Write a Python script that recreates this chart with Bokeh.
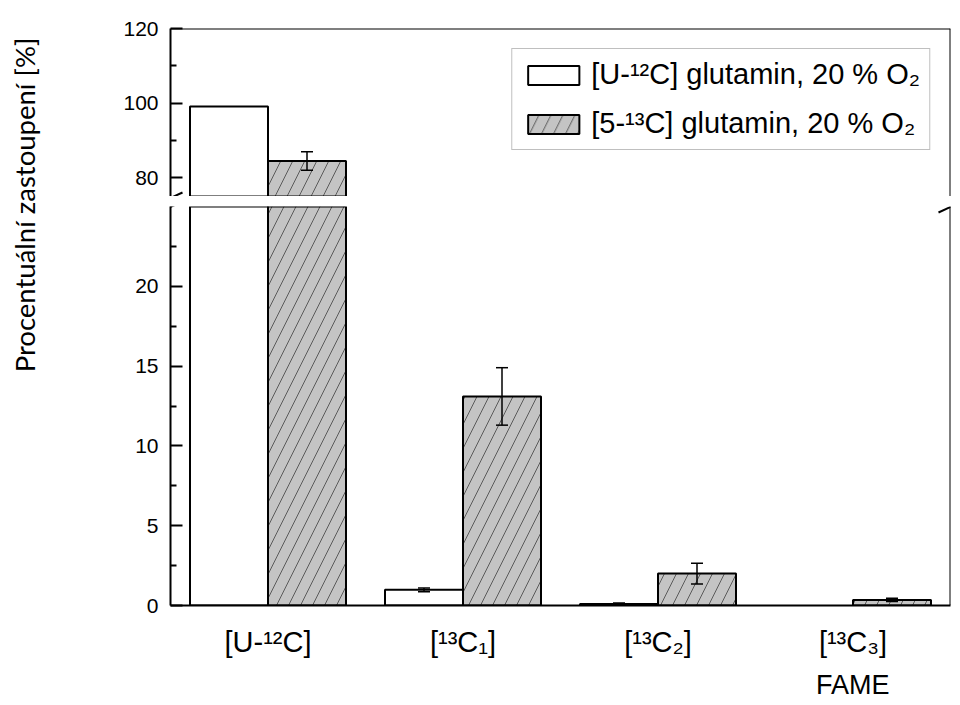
import math
from bokeh.plotting import figure
from bokeh.models import (ColumnDataSource, FixedTicker, Whisker, TeeHead, Legend,
                          LegendItem, Span, Label, Arrow, Range1d, CDSView, BooleanFilter, Title)
from bokeh.transform import dodge
from bokeh.layouts import row, column
from bokeh.embed import file_html
from bokeh.resources import INLINE

# ---------------- data ----------------
categories = ["[U-¹²C]", "[¹³C₁]", "[¹³C₂]", "[¹³C₃]"]
series_names = ["[U-¹²C] glutamin, 20 % O₂", "[5-¹³C] glutamin, 20 % O₂"]
u12_values = [99.1, 0.98, 0.1, 0.0]
u12_errors = [0.0, 0.12, 0.05, 0.0]
c13_values = [84.5, 13.1, 2.0, 0.35]
c13_errors = [2.5, 1.8, 0.65, 0.1]
x_axis_title = "FAME"
y_axis_title = "Procentuální zastoupení [%]"
upper_ticks = [80, 100, 120]
upper_minor = [90, 110]
lower_ticks = [0, 5, 10, 15, 20]
lower_minor = [2.5, 7.5, 12.5, 17.5, 22.5]
upper_range = (75, 120)
lower_range = (0, 25)

# ---------------- layout constants (page pixels) ----------------
PANEL_W = 78
BORDER_L = 92
BORDER_R = 10
FRAME_W = 780
UP_TOP, UP_H = 28, 168
GAP, LOW_H, LOW_BOTTOM = 10, 399, 97
TOTAL_H = UP_TOP + UP_H + GAP + LOW_H + LOW_BOTTOM
FRAME_LEFT_PAGE = PANEL_W + BORDER_L
UP_TOP_PAGE = UP_TOP
LOW_TOP_PAGE = UP_TOP_PAGE + UP_H + GAP
X_RANGE = (0.5, len(categories) + 0.5)
BAR_W = 0.4
FONT = "Liberation Sans"
FAME_HALF_W = 37

xs = list(range(1, len(categories) + 1))
src = ColumnDataSource(dict(x=xs, u12=u12_values, c13=c13_values))


def px_to_x(px):
    return X_RANGE[0] + (px - FRAME_LEFT_PAGE) * (X_RANGE[1] - X_RANGE[0]) / FRAME_W


def px_to_y_upper(py):
    return upper_range[1] - (py - UP_TOP_PAGE) * (upper_range[1] - upper_range[0]) / UP_H


def px_to_y_lower(py):
    return lower_range[1] - (py - LOW_TOP_PAGE) * (lower_range[1] - lower_range[0]) / LOW_H


def make_fig(yr, frame_h, top, bottom, ticks, minor, with_x_axis):
    p = figure(frame_width=FRAME_W, frame_height=frame_h,
               x_range=Range1d(*X_RANGE), y_range=Range1d(*yr),
               min_border_left=BORDER_L, min_border_right=BORDER_R,
               min_border_top=top, min_border_bottom=bottom,
               output_backend="svg", toolbar_location=None,
               outline_line_color=None,
               x_axis_location="below" if with_x_axis else None)
    p.grid.visible = False
    ax = p.yaxis[0]
    ax.ticker = FixedTicker(ticks=ticks, minor_ticks=minor)
    ax.axis_line_width = 2
    ax.axis_line_color = "black"
    ax.major_tick_line_width = 2
    ax.minor_tick_line_width = 2
    ax.major_tick_in = 12
    ax.major_tick_out = 0
    ax.minor_tick_in = 6
    ax.minor_tick_out = 0
    ax.major_label_text_font = FONT
    ax.major_label_text_font_size = "21px"
    ax.major_label_text_color = "black"
    ax.major_label_standoff = 12

    lo, hi = yr
    view_w = CDSView(filter=BooleanFilter([v > lo for v in u12_values]))
    view_h = CDSView(filter=BooleanFilter([v > lo for v in c13_values]))
    r1 = p.vbar(x=dodge("x", -BAR_W / 2, range=p.x_range), top="u12", width=BAR_W,
                source=src, view=view_w,
                fill_color="white", line_color="black", line_width=2)
    r2 = p.vbar(x=dodge("x", BAR_W / 2, range=p.x_range), top="c13", width=BAR_W,
                source=src, view=view_h,
                fill_color="#c4c4c4", line_color="black", line_width=2,
                hatch_pattern="/", hatch_color="#5a5a5a", hatch_scale=24, hatch_weight=1)

    # error bars within this segment
    wx, wu, wl = [], [], []
    for i, x in enumerate(xs):
        for off, v, e in ((-BAR_W / 2, u12_values[i], u12_errors[i]),
                          (BAR_W / 2, c13_values[i], c13_errors[i])):
            if e > 0 and lo <= v <= hi:
                wx.append(x + off)
                wu.append(v + e)
                wl.append(v - e)
    wsrc = ColumnDataSource(dict(x=wx, upper=wu, lower=wl))
    p.add_layout(Whisker(source=wsrc, base="x", upper="upper", lower="lower",
                         level="overlay", line_width=1.5, line_color="black",
                         upper_head=TeeHead(size=12, line_width=1.5, line_color="black"),
                         lower_head=TeeHead(size=12, line_width=1.5, line_color="black")))

    # right frame line
    p.add_layout(Span(location=X_RANGE[1], dimension="height", line_color="black", line_width=2))
    return p, r1, r2


upper, r1, r2 = make_fig(upper_range, UP_H, UP_TOP, 0, upper_ticks, upper_minor, False)
lower, _, _ = make_fig(lower_range, LOW_H, GAP, LOW_BOTTOM, lower_ticks, lower_minor, True)

# top frame line
upper.add_layout(Span(location=upper_range[1], dimension="width", line_color="black", line_width=2))

# x axis
xa = lower.xaxis[0]
xa.ticker = FixedTicker(ticks=xs, minor_ticks=[])
xa.major_label_overrides = {x: c for x, c in zip(xs, categories)}
xa.axis_line_width = 2
xa.axis_line_color = "black"
xa.major_tick_line_color = None
xa.minor_tick_line_color = None
xa.major_tick_in = 0
xa.major_tick_out = 0
xa.major_label_standoff = 20
xa.major_label_text_font = FONT
xa.major_label_text_font_size = "29px"
xa.major_label_text_color = "black"

# "FAME" under the last category
fame_offset = (xs[-1] - X_RANGE[0]) * FRAME_W / (X_RANGE[1] - X_RANGE[0]) - FAME_HALF_W
lower.add_layout(Title(text=x_axis_title, align="left", offset=fame_offset, standoff=14,
                       text_font=FONT, text_font_size="27px", text_font_style="normal",
                       text_color="black"), "below")

# axis-break marks, drawn in both segments so they run across the gap
for axis_px in (FRAME_LEFT_PAGE, FRAME_LEFT_PAGE + FRAME_W):
    for (y0, y1) in ((203, 192), (212, 201)):
        for fig, conv in ((upper, px_to_y_upper), (lower, px_to_y_lower)):
            fig.add_layout(Arrow(end=None, x_start=px_to_x(axis_px - 12), y_start=conv(y0),
                                 x_end=px_to_x(axis_px + 12), y_end=conv(y1),
                                 line_color="black", line_width=2))

legend = Legend(items=[LegendItem(label=series_names[0], renderers=[r1]),
                       LegendItem(label=series_names[1], renderers=[r2])],
                location="top_right", margin=20, padding=9, spacing=16,
                glyph_width=64, glyph_height=24, label_standoff=6, label_height=30,
                label_text_font=FONT, label_text_font_size="29px", label_text_color="black",
                border_line_color="#808080", border_line_width=1,
                background_fill_color="white", background_fill_alpha=1)
upper.add_layout(legend)

# y-axis title panel
panel = figure(width=PANEL_W, height=TOTAL_H, x_range=(0, 1), y_range=(0, 1),
               min_border=0, x_axis_location=None, y_axis_location=None,
               outline_line_color=None, output_backend="svg", toolbar_location=None)
panel.grid.visible = False
panel.add_layout(Label(x=23.5 / PANEL_W, y=(TOTAL_H - 204.5) / TOTAL_H,
                       text=y_axis_title, angle=math.pi / 2,
                       text_font="Lato", text_font_size="27.5px", text_color="black",
                       text_align="center", text_baseline="middle"))

layout = row(panel, column(upper, lower, spacing=0), spacing=0)
open("out.html", "w").write(file_html(layout, INLINE))
